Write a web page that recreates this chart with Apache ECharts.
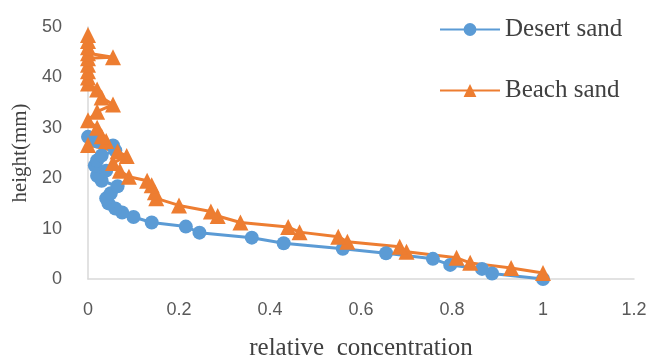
<!DOCTYPE html>
<html>
<head>
<meta charset="utf-8">
<script src="https://cdn.jsdelivr.net/npm/echarts@6/dist/echarts.min.js"></script>
<style>html,body{margin:0;padding:0;background:#fff;}#c{width:654px;height:358px;}</style>
</head>
<body>
<div id="c"></div>
<script>
const seriesNames = ["Desert sand", "Beach sand"];
const desertX = [1.0, 0.888, 0.866, 0.796, 0.758, 0.655, 0.56, 0.43, 0.36, 0.245, 0.215, 0.14, 0.10, 0.075, 0.06, 0.045, 0.04, 0.05, 0.065, 0.03, 0.02, 0.04, 0.015, 0.02, 0.03, 0.06, 0.055, 0.02, 0.0];
const desertY = [0.0, 1.1, 2.0, 2.8, 4.0, 5.1, 6.0, 7.1, 8.2, 9.2, 10.4, 11.2, 12.3, 13.2, 14.0, 15.0, 16.0, 17.0, 18.4, 19.5, 20.5, 21.5, 22.5, 23.5, 24.5, 25.5, 26.5, 27.3, 28.2];
const beachX = [1.0, 0.93, 0.84, 0.81, 0.70, 0.685, 0.57, 0.55, 0.465, 0.44, 0.335, 0.285, 0.27, 0.20, 0.15, 0.147, 0.14, 0.13, 0.09, 0.07, 0.055, 0.085, 0.065, 0.0, 0.04, 0.03, 0.02, 0.0, 0.02, 0.055, 0.03, 0.02, 0.0, 0.0, 0.0, 0.0, 0.0, 0.055, 0.0, 0.0, 0.0, 0.0];
const beachY = [1.2, 2.2, 3.2, 4.2, 5.4, 6.4, 7.4, 8.4, 9.3, 10.3, 11.2, 12.5, 13.4, 14.6, 16.0, 17.2, 18.6, 19.5, 20.3, 21.5, 23.0, 24.4, 25.3, 26.6, 27.4, 28.3, 30.0, 31.5, 33.2, 34.6, 36.0, 37.6, 38.8, 40.0, 41.2, 42.5, 43.8, 44.0, 44.8, 46.0, 47.2, 48.4];
const xTicks = {min: 0, max: 1.2, interval: 0.2};
const yTicks = {min: 0, max: 50, interval: 10};

const pair = (xs, ys) => xs.map((x, i) => [x, ys[i]]);
const chart = echarts.init(document.getElementById('c'), null, {renderer: 'canvas'});
const serif = 'Liberation Serif, Times New Roman, serif';
const sans = 'Liberation Sans, Arial, sans-serif';
chart.setOption({
  animation: false,
  backgroundColor: '#fff',
  grid: {left: 88, right: 20, top: 27, bottom: 79, containLabel: false, outerBoundsMode: 'none'},
  legend: {
    orient: 'vertical', left: 434, top: 12, itemGap: 36, itemWidth: 60, itemHeight: 16,
    textStyle: {fontFamily: serif, fontSize: 25, color: '#404040'},
    data: seriesNames
  },
  xAxis: {
    type: 'value', min: xTicks.min, max: xTicks.max, interval: xTicks.interval,
    name: 'relative  concentration', nameLocation: 'middle', nameGap: 57,
    nameTextStyle: {fontFamily: serif, fontSize: 25, color: '#404040'},
    axisLine: {show: true, lineStyle: {color: '#d9d9d9', width: 1.5}},
    axisTick: {show: false}, splitLine: {show: false},
    axisLabel: {fontFamily: sans, fontSize: 18, color: '#595959', margin: 22}
  },
  yAxis: {
    type: 'value', min: yTicks.min, max: yTicks.max, interval: yTicks.interval,
    name: 'height(mm)', nameLocation: 'middle', nameGap: 56, nameRotate: 90,
    nameTextStyle: {fontFamily: serif, fontSize: 21, color: '#404040'},
    axisLine: {show: true, lineStyle: {color: '#d9d9d9', width: 1.5}},
    axisTick: {show: false}, splitLine: {show: false},
    axisLabel: {fontFamily: sans, fontSize: 18, color: '#595959', margin: 26}
  },
  series: [
    {
      name: seriesNames[0], type: 'line', data: pair(desertX, desertY),
      symbol: 'circle', symbolSize: 14, showAllSymbol: true,
      lineStyle: {color: '#5B9BD5', width: 3},
      itemStyle: {color: '#5B9BD5'}
    },
    {
      name: seriesNames[1], type: 'line', data: pair(beachX, beachY),
      symbol: 'triangle', symbolSize: 16, showAllSymbol: true,
      lineStyle: {color: '#ED7D31', width: 3},
      itemStyle: {color: '#ED7D31'}
    }
  ]
});
</script>
</body>
</html>
